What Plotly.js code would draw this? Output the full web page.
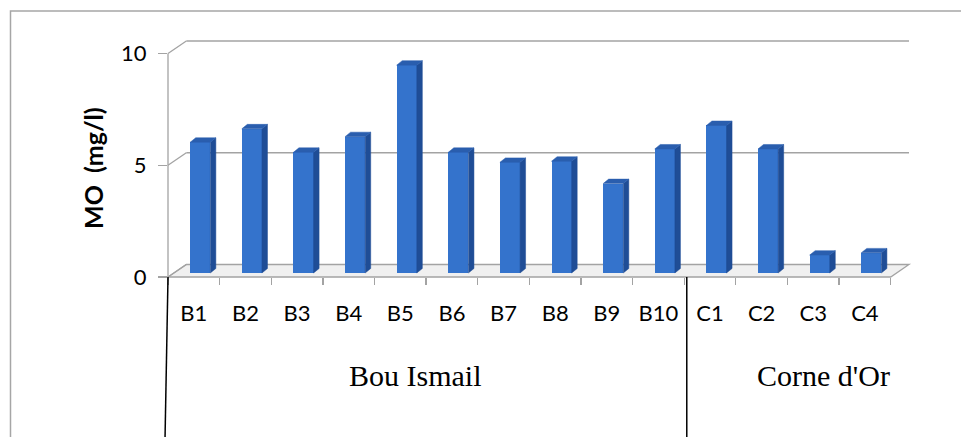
<!DOCTYPE html>
<html>
<head>
<meta charset="utf-8">
<script src="https://cdn.plot.ly/plotly-3.0.1.min.js"></script>
<style>
  html, body { margin: 0; padding: 0; background: #fff; }
  #chart { width: 961px; height: 437px; }
</style>
</head>
<body>
<div id="chart"></div>
<script>
// Organic matter (MO) per sampling station
const categories = ['B1', 'B2', 'B3', 'B4', 'B5', 'B6', 'B7', 'B8', 'B9', 'B10', 'C1', 'C2', 'C3', 'C4'];
const moValues = [5.85, 6.45, 5.4, 6.1, 9.3, 5.4, 4.95, 5.0, 4.0, 5.55, 6.6, 5.55, 0.8, 0.9];
const yTicks = [0, 5, 10];
const groupNames = ['Bou Ismail', "Corne d'Or"];
const groupCaptionX = [4.3, 12.2];   // caption centres, in category units
const groupBreaks = [-0.5, 9.55];    // separator lines between the groups

// Figure geometry
const W = 961, H = 437;
const M = { l: 168, r: 52, t: 41, b: 160 };
const plotW = W - M.l - M.r, plotH = H - M.t - M.b;
const n = categories.length;
const DX = 0.355, DY = 0.56;               // depth of the 3-D box (x units, y units)
const xRange = [-0.5, n - 0.5 + DX];
const yRange = [0, 10 + DY];

// Data -> paper and pixel -> paper helpers for the decorations
const px = x => (x - xRange[0]) / (xRange[1] - xRange[0]);
const py = y => (y - yRange[0]) / (yRange[1] - yRange[0]);
const ppx = p => (p - M.l) / plotW;
const ppy = p => (H - M.b - p) / plotH;

// Column geometry
const BAR_W = 0.39, BAR_OFF = 0.125, BASE = 0.18, SDX = 0.107, SDY = 0.2;
const idx = categories.map((_, i) => i);

const sideX = [], sideY = [], topX = [], topY = [];
moValues.forEach((v, i) => {
  const xl = i + BAR_OFF - BAR_W / 2, xr = xl + BAR_W, t = BASE + v;
  sideX.push(xr, xr + SDX, xr + SDX, xr, xr, null);
  sideY.push(BASE, BASE + SDY, t + SDY, t, BASE, null);
  topX.push(xl, xl + SDX, xr + SDX, xr, xl, null);
  topY.push(t, t + SDY, t + SDY, t, t, null);
});

const traces = [
  {
    type: 'bar', x: idx, y: moValues, base: BASE,
    width: BAR_W, offset: BAR_OFF - BAR_W / 2,
    marker: { color: '#3473cc', line: { width: 0 } },
    hoverinfo: 'skip', showlegend: false
  },
  {
    type: 'scatter', mode: 'lines', x: sideX, y: sideY, fill: 'toself',
    fillcolor: '#1f4d96', line: { color: '#1f4d96', width: 0.5 },
    hoverinfo: 'skip', showlegend: false
  },
  {
    type: 'scatter', mode: 'lines', x: topX, y: topY, fill: 'toself',
    fillcolor: '#2a5eae', line: { color: '#2a5eae', width: 0.5 },
    hoverinfo: 'skip', showlegend: false
  }
];

const grey = '#a3a3a3';
const shapes = [];

// Outer chart frame
shapes.push({
  type: 'rect', xref: 'paper', yref: 'paper',
  x0: ppx(10.5), y0: ppy(11), x1: ppx(1000), y1: ppy(480),
  line: { color: '#a6a6a6', width: 1.5 }, layer: 'below'
});

// Floor plate
const x0 = xRange[0], x1 = n - 0.5;
shapes.push({
  type: 'path', xref: 'paper', yref: 'paper', layer: 'below',
  path: `M ${px(x0)} ${py(0)} L ${px(x1)} ${py(0)} L ${px(x1 + DX)} ${py(DY)} L ${px(x0 + DX)} ${py(DY)} Z`,
  fillcolor: '#f0f0f0', line: { color: grey, width: 1.3 }
});

// Back-wall gridlines and the diagonals that join them to the value axis
yTicks.forEach(v => {
  if (v > 0) {
    shapes.push({
      type: 'line', xref: 'paper', yref: 'paper', layer: 'below',
      x0: px(x0 + DX), y0: py(v + DY), x1: px(x1 + DX), y1: py(v + DY),
      line: { color: grey, width: 1.3 }
    });
  }
  shapes.push({
    type: 'line', xref: 'paper', yref: 'paper', layer: 'below',
    x0: px(x0), y0: py(v), x1: px(x0 + DX), y1: py(v + DY),
    line: { color: grey, width: 1.3 }
  });
});

// Value axis line
shapes.push({
  type: 'line', xref: 'paper', yref: 'paper', layer: 'below',
  x0: px(x0), y0: py(0), x1: px(x0), y1: py(10),
  line: { color: grey, width: 1.3 }
});

// Group separators below the category axis
shapes.push({
  type: 'line', xref: 'paper', yref: 'paper',
  x0: px(groupBreaks[0]), y0: py(0), x1: ppx(165), y1: ppy(440),
  line: { color: '#000', width: 1.5 }
});
shapes.push({
  type: 'line', xref: 'paper', yref: 'paper',
  x0: px(groupBreaks[1]), y0: py(0), x1: px(groupBreaks[1]), y1: ppy(440),
  line: { color: '#000', width: 1.5 }
});

const annotations = groupNames.map((name, k) => ({
  text: name, xref: 'paper', yref: 'paper',
  x: px(groupCaptionX[k]), y: ppy(375), xanchor: 'center', yanchor: 'middle',
  showarrow: false, font: { family: 'Liberation Serif, Times New Roman, serif', size: 30, color: '#000' }
}));
annotations.push({
  text: '<b>MO  (mg/l)</b>', xref: 'paper', yref: 'paper',
  x: ppx(93), y: ppy(168), xanchor: 'center', yanchor: 'middle', textangle: -90,
  showarrow: false, font: { family: 'Lato, sans-serif', size: 25, color: '#000' }
});

const boundaries = [];
for (let i = 0; i <= n; i++) boundaries.push(i - 0.5);

const layout = {
  width: W, height: H,
  margin: M,
  paper_bgcolor: '#fff', plot_bgcolor: 'rgba(0,0,0,0)',
  showlegend: false,
  bargap: 0,
  xaxis: {
    range: xRange, fixedrange: true,
    tickmode: 'array', tickvals: idx, ticktext: categories,
    ticks: '', showgrid: false, zeroline: false, showline: false,
    tickfont: { family: 'Lato, sans-serif', size: 22, color: '#000' },
    ticklabelstandoff: 21,
    minor: { tickmode: 'array', tickvals: boundaries, ticks: 'outside', ticklen: 7, tickwidth: 1.3, tickcolor: grey, showgrid: false }
  },
  yaxis: {
    range: yRange, fixedrange: true,
    tickmode: 'array', tickvals: yTicks,
    ticks: 'outside', ticklen: 9, tickwidth: 1.3, tickcolor: grey,
    showgrid: false, zeroline: false, showline: false,
    tickfont: { family: 'Lato, sans-serif', size: 22, color: '#000' },
    ticklabelstandoff: 7
  },
  shapes: shapes,
  annotations: annotations
};

Plotly.newPlot('chart', traces, layout, { staticPlot: true, displayModeBar: false });
</script>
</body>
</html>
